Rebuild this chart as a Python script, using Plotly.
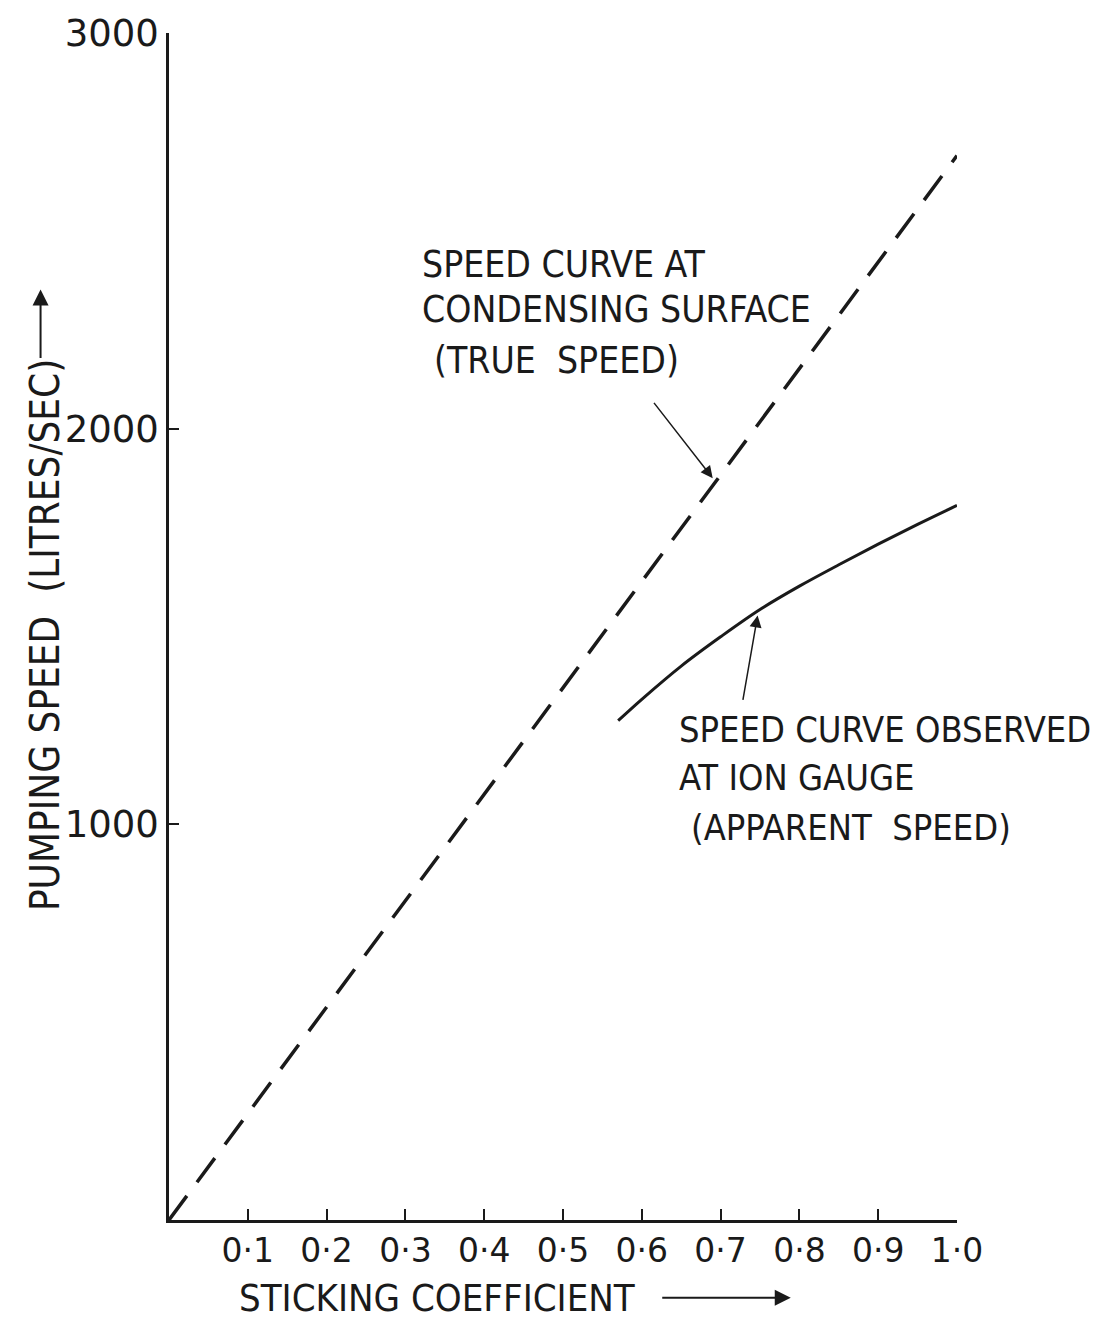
import plotly.graph_objects as go

# ---- data ----
true_x = [0.0, 1.0]
true_y = [0, 2690]

apparent_x = [0.57, 0.60, 0.65, 0.70, 0.75, 0.80, 0.85, 0.90, 0.95, 1.00]
apparent_y = [1262, 1316, 1400, 1474, 1543, 1602, 1656, 1708, 1758, 1806]

x_tickvals = [0.1, 0.2, 0.3, 0.4, 0.5, 0.6, 0.7, 0.8, 0.9, 1.0]
x_ticktext = ["0·1", "0·2", "0·3", "0·4", "0·5", "0·6", "0·7", "0·8", "0·9", "1·0"]
y_tickvals = [0, 1000, 2000, 3000]
y_ticktext = ["", "1000", "2000", "3000"]

FONT = "DejaVu Sans Condensed, Liberation Sans Narrow, DejaVu Sans, sans-serif"
INK = "#1a1a1a"

fig = go.Figure()
fig.add_trace(go.Scatter(x=true_x, y=true_y, mode="lines",
                         line=dict(color=INK, width=3.5, dash="30px,17px"),
                         showlegend=False, hoverinfo="skip"))
fig.add_trace(go.Scatter(x=apparent_x, y=apparent_y, mode="lines",
                         line=dict(color=INK, width=3, shape="spline", smoothing=1.0),
                         showlegend=False, hoverinfo="skip"))

def label(x, y, text, size):
    return dict(x=x, y=y, xref="x", yref="y", xanchor="left", yanchor="middle",
                text=text, showarrow=False, font=dict(size=size, family=FONT, color=INK))

annotations = [
    label(0.3185, 2415, "SPEED CURVE AT", 37),
    label(0.3185, 2300, "CONDENSING SURFACE", 37),
    label(0.334, 2173, "(TRUE&#160;&#160;SPEED)", 37),
    label(0.645, 1240, "SPEED CURVE OBSERVED", 36),
    label(0.645, 1119, "AT ION GAUGE", 36),
    label(0.66, 991, "(APPARENT&#160;&#160;SPEED)", 36),
    # pointer arrows
    dict(x=0.690, y=1875, xref="x", yref="y", ax=0.614, ay=2069, axref="x", ayref="y",
         text="", showarrow=True, arrowhead=2, arrowsize=1.6, arrowwidth=1.5, arrowcolor=INK),
    dict(x=0.747, y=1528, xref="x", yref="y", ax=0.728, ay=1311, axref="x", ayref="y",
         text="", showarrow=True, arrowhead=2, arrowsize=1.6, arrowwidth=1.5, arrowcolor=INK),
    # axis titles
    dict(x=0.086, y=-0.0654, xref="paper", yref="paper", xanchor="left", yanchor="middle",
         text="STICKING COEFFICIENT", showarrow=False, font=dict(size=38, family=FONT, color=INK)),
    dict(x=0.789, y=-0.0654, xref="paper", yref="paper", ax=-130, ay=0,
         text="", showarrow=True, arrowhead=2, arrowsize=1.6, arrowwidth=2, arrowcolor=INK),
    dict(x=-0.157, y=0.493, xref="paper", yref="paper", xanchor="center", yanchor="middle",
         text="PUMPING SPEED&#160;&#160;(LITRES/SEC)", textangle=-90, showarrow=False,
         font=dict(size=40, family=FONT, color=INK)),
    dict(x=-0.163, y=0.784, xref="paper", yref="paper", ax=0, ay=70,
         text="", showarrow=True, arrowhead=2, arrowsize=1.6, arrowwidth=2, arrowcolor=INK),
]

fig.update_layout(
    width=1097, height=1323,
    margin=dict(l=169, r=140, t=28, b=103),
    paper_bgcolor="white", plot_bgcolor="white",
    showlegend=False,
    annotations=annotations,
    font=dict(family=FONT, color=INK),
    xaxis=dict(range=[0, 1.0], showgrid=False, zeroline=False,
               showline=True, linecolor=INK, linewidth=2.5,
               ticks="inside", ticklen=11, tickwidth=2, tickcolor=INK,
               tickvals=x_tickvals, ticktext=x_ticktext,
               tickfont=dict(size=33, family="DejaVu Sans, sans-serif", color=INK)),
    yaxis=dict(range=[0, 3000], showgrid=False, zeroline=False,
               showline=True, linecolor=INK, linewidth=2.5,
               ticks="inside", ticklen=10, tickwidth=2, tickcolor=INK,
               tickvals=y_tickvals, ticktext=y_ticktext,
               tickfont=dict(size=37, family="DejaVu Sans, sans-serif", color=INK)),
)

fig.write_html("out.html")
